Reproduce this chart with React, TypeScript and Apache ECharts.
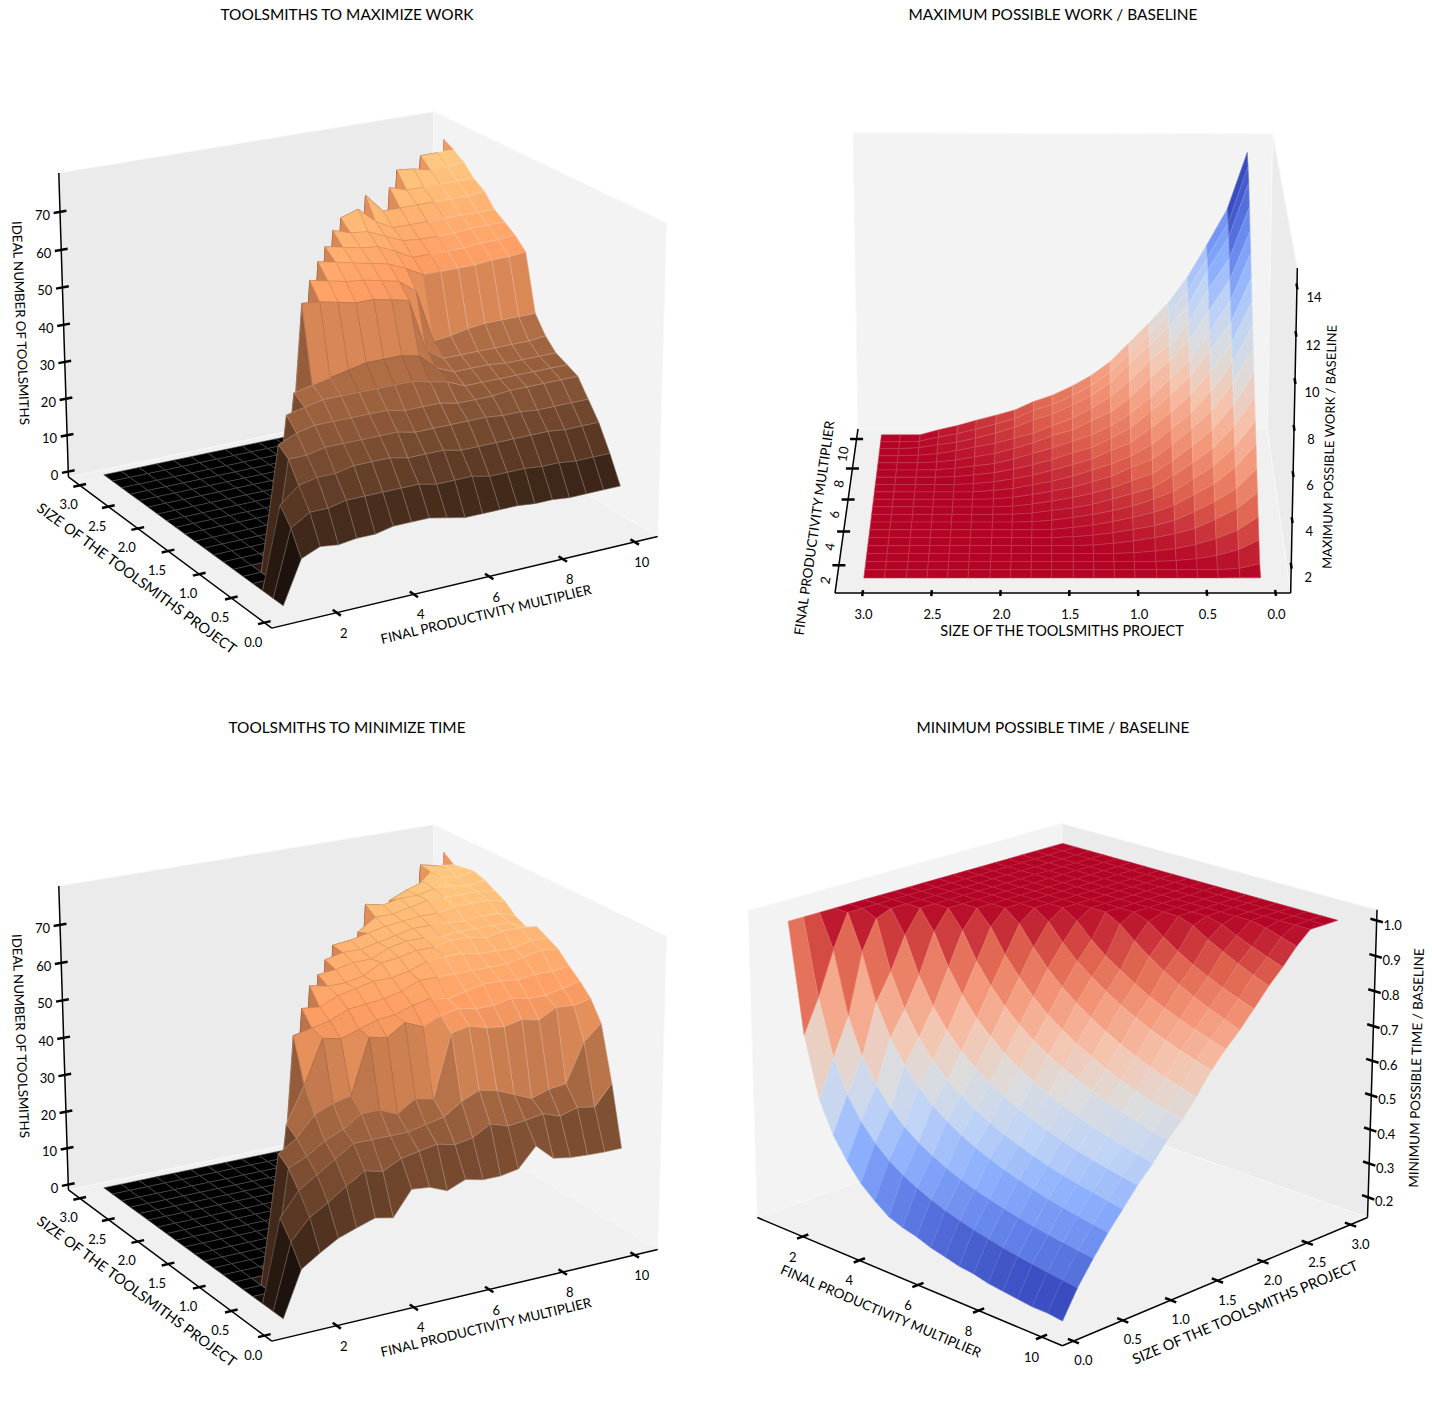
import React, { useEffect, useRef } from "react";
import * as echarts from "echarts";

const multipliers = [1, 1.47, 1.95, 2.42, 2.89, 3.37, 3.84, 4.32, 4.79, 5.26, 5.74, 6.21, 6.68, 7.16, 7.63, 8.11, 8.58, 9.05, 9.53, 10];
const sizes = [0.1, 0.25, 0.41, 0.56, 0.71, 0.86, 1.02, 1.17, 1.32, 1.47, 1.63, 1.78, 1.93, 2.08, 2.24, 2.39, 2.54, 2.69, 2.85, 3];

// rows: one per multiplier; each row lists values by size, remaining sizes stay at the flat level
const toolsmithsWork = [
  [],
  [11, 17, 21],
  [13, 20, 25, 30, 32],
  [12.4, 20, 26, 30, 34, 37],
  [13, 21, 26, 31, 35, 38, 40],
  [13, 21, 27, 31, 35, 39, 41, 60.5],
  [14, 21, 27, 31, 35, 39, 42, 60, 64],
  [14, 21, 27, 31, 35, 39, 43, 59, 63, 66.5],
  [14, 21, 26, 31, 35, 39, 44, 58, 62, 65.5, 68],
  [13, 20, 26, 30, 34, 39, 44, 58, 61.5, 64.5, 67, 70],
  [12, 20, 26, 30, 34, 39, 44, 57, 60.5, 63.5, 66, 68.5, 71],
  [12, 20, 25, 30, 34, 38, 43, 56, 59.5, 62.5, 65.5, 68, 72.5],
  [12, 19, 25, 30, 33, 37, 39, 42, 56, 60.5, 63.5, 66, 68.5, 74],
  [12, 19, 25, 30, 33, 35, 37, 39, 42, 58, 61, 64, 66, 69],
  [11.5, 19, 25, 29.5, 33, 35, 37, 39, 42.5, 58, 61, 63.5, 66, 69, 73],
  [11.5, 18.5, 25, 29.5, 33.5, 35, 37, 39, 43.5, 58, 61, 63.5, 66, 69, 71.5, 75.5],
  [11, 18.5, 25, 29, 33.5, 35, 36.5, 39, 44, 58, 61, 63.5, 66, 69, 71.5, 75],
  [11, 18, 24.5, 29, 33.5, 35, 36.5, 39, 44, 58.5, 61.5, 64, 66, 69, 71.5, 74, 76.5],
  [11, 18, 24.5, 29, 33.5, 35, 36.5, 39, 44, 58.5, 61.5, 64, 66, 69, 71.5, 74, 76.5],
  [11, 18, 24.5, 29, 33.5, 35, 36.5, 39.5, 44, 59, 62, 64, 66, 69.5, 71.5, 74.5, 76.5, 78],
];

const maxWork = [
  [],
  [1.27, 1.06],
  [1.95, 1.53, 1.27, 1.12, 1.04],
  [2.64, 2.04, 1.67, 1.4, 1.22, 1.11, 1.03],
  [3.37, 2.66, 2.18, 1.77, 1.53, 1.36, 1.21, 1.1, 1.03],
  [4.1, 3.22, 2.63, 2.18, 1.78, 1.54, 1.37, 1.22, 1.11, 1.04],
  [4.86, 3.84, 3.09, 2.6, 2.11, 1.8, 1.56, 1.38, 1.22, 1.11, 1.02],
  [5.56, 4.42, 3.54, 2.97, 2.4, 2.04, 1.73, 1.52, 1.34, 1.21, 1.08, 1.01],
  [6.33, 5.03, 4.02, 3.37, 2.78, 2.24, 1.95, 1.71, 1.47, 1.3, 1.18, 1.06, 1.01],
  [7.13, 5.66, 4.53, 3.8, 3.13, 2.53, 2.2, 1.87, 1.63, 1.43, 1.27, 1.13, 1.03],
  [7.88, 6.33, 5.07, 4.26, 3.52, 2.85, 2.48, 2.07, 1.81, 1.56, 1.37, 1.22, 1.09, 1.01],
  [8.65, 6.94, 5.64, 4.66, 3.93, 3.2, 2.67, 2.3, 2.02, 1.73, 1.49, 1.33, 1.16, 1.07],
  [9.44, 7.57, 6.24, 5.17, 4.37, 3.66, 2.95, 2.6, 2.2, 1.93, 1.67, 1.44, 1.27, 1.13, 1.04],
  [10.2, 8.2, 6.87, 5.71, 4.85, 4.08, 3.31, 2.83, 2.39, 2.15, 1.82, 1.58, 1.38, 1.21, 1.1, 1.02],
  [11.05, 8.87, 7.42, 6.18, 5.25, 4.42, 3.64, 3.07, 2.66, 2.35, 2.04, 1.78, 1.52, 1.31, 1.19, 1.08, 1.01],
  [11.77, 9.55, 8.1, 6.77, 5.77, 5, 4.05, 3.39, 3, 2.55, 2.28, 1.94, 1.67, 1.44, 1.28, 1.13, 1.03],
  [12.6, 10.24, 8.81, 7.28, 6.21, 5.5, 4.55, 3.78, 3.25, 2.78, 2.42, 2.07, 1.83, 1.59, 1.41, 1.24, 1.09, 1.02],
  [13.45, 10.94, 9.43, 7.79, 6.79, 5.91, 5.03, 4.15, 3.52, 3.08, 2.64, 2.38, 2.01, 1.75, 1.5, 1.31, 1.19, 1.05],
  [13.9, 11.3, 9.7, 8.15, 7.05, 6.13, 5.2, 4.32, 3.68, 3.2, 2.77, 2.5, 2.1, 1.85, 1.6, 1.38, 1.22, 1.02],
  [14.3, 11.7, 10, 8.5, 7.3, 6.35, 5.4, 4.5, 3.85, 3.35, 2.9, 2.6, 2.2, 1.95, 1.7, 1.45, 1.25],
];

const toolsmithsTime = [
  [],
  [11.6, 16.8, 21],
  [14.7, 22, 27, 31, 33],
  [17.4, 24.7, 30, 33, 36, 38],
  [19, 27.9, 33, 36, 41, 47, 58],
  [20.5, 30.8, 36, 38, 43, 58, 59, 62.5],
  [19.5, 29.7, 36, 41, 44, 57, 60, 62, 66],
  [25.8, 32, 36, 41, 58, 58.5, 62, 64, 65, 66.5],
  [25.3, 32.9, 36, 39, 57, 60, 62.5, 65, 65, 67, 68],
  [23.4, 33.7, 37, 42, 60, 60.5, 63, 66, 66, 68, 69, 69.5],
  [25.3, 32.6, 38, 41, 58, 62, 64, 66, 68.5, 68, 69, 70],
  [24.2, 33.4, 41, 57, 60, 63, 66, 67, 69, 70, 70, 71, 70],
  [24.2, 36, 43, 58, 61, 62, 66, 68.5, 70, 71, 71, 72, 73, 75],
  [25, 34.5, 42, 56.6, 60, 63, 66, 69, 70, 71, 72, 72.5, 73, 74],
  [30, 35, 40, 56, 60, 64, 66, 69, 71, 70.5, 72, 73, 74, 75, 73],
  [25.8, 35.8, 38, 57, 61, 64, 66, 68, 71, 71, 72, 73, 75, 75, 75],
  [25, 34.2, 39.5, 56, 60, 63.5, 66, 68, 70, 71, 71.5, 74, 75, 76, 76.5, 73],
  [24.7, 35.5, 40, 58.4, 60, 64, 67, 68, 71, 71, 72, 74, 75, 76, 77, 77, 77.5],
  [24.5, 34.7, 50, 58, 61, 64, 68, 69, 71, 71, 72, 74, 75, 75, 76, 77, 76.5],
  [24.5, 40, 54, 59, 62, 64.5, 67.5, 69, 70.5, 69, 70.5, 73, 74.5, 76, 77, 76.5, 76, 78],
];

const minTime = [
  [],
  [0.69, 0.784, 0.907],
  [0.52, 0.626, 0.732, 0.9, 0.983],
  [0.43, 0.531, 0.627, 0.768, 0.843, 0.935],
  [0.37, 0.468, 0.557, 0.68, 0.749, 0.833, 0.944],
  [0.32, 0.421, 0.506, 0.615, 0.681, 0.757, 0.856, 0.948],
  [0.285, 0.386, 0.467, 0.566, 0.629, 0.701, 0.789, 0.873, 0.958],
  [0.255, 0.359, 0.437, 0.528, 0.588, 0.656, 0.736, 0.815, 0.891, 0.968],
  [0.24, 0.338, 0.414, 0.499, 0.558, 0.622, 0.697, 0.77, 0.841, 0.913, 0.973],
  [0.23, 0.32, 0.394, 0.474, 0.531, 0.593, 0.662, 0.732, 0.797, 0.865, 0.925, 0.975],
  [0.215, 0.305, 0.377, 0.453, 0.509, 0.569, 0.634, 0.7, 0.76, 0.825, 0.885, 0.934],
  [0.205, 0.293, 0.364, 0.436, 0.49, 0.549, 0.61, 0.673, 0.73, 0.793, 0.853, 0.9, 0.978],
  [0.195, 0.282, 0.352, 0.421, 0.475, 0.532, 0.59, 0.651, 0.705, 0.765, 0.825, 0.873, 0.943, 0.985],
  [0.19, 0.273, 0.342, 0.408, 0.461, 0.516, 0.572, 0.631, 0.682, 0.74, 0.8, 0.847, 0.911, 0.954],
  [0.18, 0.264, 0.332, 0.396, 0.448, 0.503, 0.556, 0.613, 0.661, 0.718, 0.778, 0.824, 0.883, 0.926, 0.986],
  [0.175, 0.257, 0.324, 0.385, 0.437, 0.49, 0.542, 0.596, 0.643, 0.698, 0.758, 0.804, 0.858, 0.901, 0.959, 0.989],
  [0.17, 0.251, 0.317, 0.377, 0.428, 0.48, 0.53, 0.584, 0.628, 0.682, 0.742, 0.787, 0.837, 0.881, 0.937, 0.97],
  [0.165, 0.245, 0.311, 0.369, 0.42, 0.471, 0.519, 0.571, 0.614, 0.666, 0.726, 0.772, 0.818, 0.862, 0.916, 0.952, 0.992],
  [0.165, 0.24, 0.305, 0.362, 0.412, 0.463, 0.509, 0.56, 0.602, 0.653, 0.713, 0.758, 0.801, 0.845, 0.897, 0.935, 0.978],
  [0.16, 0.235, 0.3, 0.355, 0.405, 0.455, 0.5, 0.55, 0.59, 0.64, 0.7, 0.745, 0.785, 0.83, 0.88, 0.92, 0.965],
];

const multiplierTicks = [2, 4, 6, 8, 10];
const sizeTicks = [0, 0.5, 1, 1.5, 2, 2.5, 3];
const toolsmithTicks = [0, 10, 20, 30, 40, 50, 60, 70];
const workTicks = [2, 4, 6, 8, 10, 12, 14];
const timeTicks = [0.2, 0.3, 0.4, 0.5, 0.6, 0.7, 0.8, 0.9, 1];

const FONT = "Lato";
const xName = "FINAL PRODUCTIVITY MULTIPLIER";
const yName = "SIZE OF THE TOOLSMITHS PROJECT";

const COOLWARM = [[58, 76, 192], [98, 130, 234], [141, 176, 254], [192, 212, 245], [221, 221, 221], [245, 196, 173], [244, 152, 122], [222, 96, 77], [180, 4, 38]];
function coolwarm(t: number) {
  const p = Math.max(0, Math.min(1, t)) * 8;
  const i = Math.min(7, Math.floor(p));
  const f = p - i;
  return COOLWARM[i].map((c, k) => c + (COOLWARM[i + 1][k] - c) * f);
}
function copper(t: number) {
  return [Math.min(1, 1.25 * t) * 255, 0.7812 * t * 255, 0.4975 * t * 255];
}
const css = (c: number[]) => `rgb(${c.map((v) => Math.round(v)).join(",")})`;
const mix = (c: number[], to: number, a: number) => c.map((v) => v + (to - v) * a);

function makeCamera(pts: number[][], lims: number[][]) {
  const n = 11;
  const A: number[][] = Array.from({ length: n }, () => new Array(n + 1).fill(0));
  const add = (r: number[], b: number) => {
    for (let a = 0; a < n; a++) {
      for (let c = 0; c < n; c++) A[a][c] += r[a] * r[c];
      A[a][n] += r[a] * b;
    }
  };
  pts.forEach(([a, b, c, u0, v0]) => {
    const u = u0 / 1000;
    const v = v0 / 1000;
    add([a, b, c, 1, 0, 0, 0, 0, -u * a, -u * b, -u * c], u);
    add([0, 0, 0, 0, a, b, c, 1, -v * a, -v * b, -v * c], v);
  });
  for (let i = 0; i < n; i++) {
    let m = i;
    for (let r = i + 1; r < n; r++) if (Math.abs(A[r][i]) > Math.abs(A[m][i])) m = r;
    [A[i], A[m]] = [A[m], A[i]];
    for (let r = 0; r < n; r++) {
      if (r === i) continue;
      const f = A[r][i] / A[i][i];
      for (let c = i; c <= n; c++) A[r][c] -= f * A[i][c];
    }
  }
  const s = A.map((r, i) => r[n] / r[i]);
  return (x: number, y: number, z: number) => {
    const a = (x - lims[0][0]) / (lims[0][1] - lims[0][0]);
    const b = (y - lims[1][0]) / (lims[1][1] - lims[1][0]);
    const c = (z - lims[2][0]) / (lims[2][1] - lims[2][0]);
    const w = s[8] * a + s[9] * b + s[10] * c + 1;
    return [(1000 * (s[0] * a + s[1] * b + s[2] * c + s[3])) / w, (1000 * (s[4] * a + s[5] * b + s[6] * c + s[7])) / w, w];
  };
}

const d3 = 713;
const cornersLeft = (dy: number) => [
  [0, 0, 0, 272, 628 + dy], [1, 0, 0, 657, 537 + dy], [0, 1, 0, 68, 477 + dy], [1, 1, 0, 433, 401 + dy],
  [1, 1, 1, 433, 112 + dy], [0, 1, 1, 59, 173 + dy], [1, 0, 1, 667, 223 + dy],
];

const panels: any[] = [
  {
    title: "TOOLSMITHS TO MAXIMIZE WORK", tx: 347, ty: 14, grid: toolsmithsWork, flat: 0, map: copper, seam: 0.3, darkV: 385,
    lims: [[0.35, 10.65], [-0.11, 3.2], [-1.5, 80.2]], corners: cornersLeft(0), walls: [["y", 1], ["x", 1]],
    xEdge: 0, yEdge: 0, zEdge: [0, 1], xLen: 10, yLen: 13, zLen: 13,
    xOff: [7, 20], yOff: [-11, 19], zOff: [-10, 3], zAlign: "right", zTicks: toolsmithTicks, zDigits: 0, xRot: 0,
    names: [
      [xName, 486, 614, 13.4, 13.5], [yName, 137, 578, -36.4, 14.5], ["IDEAL NUMBER OF TOOLSMITHS", 21, 323, -87.7, 13.2],
    ],
  },
  {
    title: "MAXIMUM POSSIBLE WORK / BASELINE", tx: 1053, ty: 14, grid: maxWork, flat: 1, map: (t: number) => coolwarm(1 - t), seam: 0.2, darkV: 0,
    lims: [[0.4, 10.7], [-0.11, 3.2], [0.8, 14.77]],
    corners: [[0, 0, 0, 1291, 593], [0, 1, 0, 835, 593], [1, 0, 0, 1267, 429], [1, 1, 0, 858, 429], [1, 0, 1, 1273, 134], [1, 1, 1, 853, 133], [0, 0, 1, 1297, 268]],
    walls: [["x", 1], ["y", 0]],
    xEdge: 1, yEdge: 0, zEdge: [0, 0], xLen: 13, yLen: 6, zLen: 6,
    xOff: [-14, 15], yOff: [1, 21], zOff: [17, 11], zAlign: "center", zTicks: workTicks, zDigits: 0, xRot: 80,
    names: [
      [xName, 814, 528, 81.7, 13.5], [yName, 1062, 630, 0, 14.5], ["MAXIMUM POSSIBLE WORK / BASELINE", 1329, 447, 88.8, 13],
    ],
  },
  {
    title: "TOOLSMITHS TO MINIMIZE TIME", tx: 347, ty: 727, grid: toolsmithsTime, flat: 0, map: copper, seam: 0.3, darkV: 385 + d3,
    lims: [[0.35, 10.65], [-0.11, 3.2], [-1.5, 80.2]], corners: cornersLeft(d3), walls: [["y", 1], ["x", 1]],
    xEdge: 0, yEdge: 0, zEdge: [0, 1], xLen: 10, yLen: 13, zLen: 13,
    xOff: [7, 20], yOff: [-11, 19], zOff: [-10, 3], zAlign: "right", zTicks: toolsmithTicks, zDigits: 0, xRot: 0,
    names: [
      [xName, 486, 614 + d3, 13.4, 13.5], [yName, 137, 578 + d3, -36.4, 14.5], ["IDEAL NUMBER OF TOOLSMITHS", 21, 323 + d3, -87.7, 13.2],
    ],
  },
  {
    title: "MINIMUM POSSIBLE TIME / BASELINE", tx: 1053, ty: 727, grid: minTime, flat: 1, map: coolwarm, seam: 0.12, darkV: 0,
    lims: [[0.35, 10.65], [-0.11, 3.2], [0.14, 1.03]],
    corners: [[0, 0, 0, 757, 1218], [1, 0, 0, 1063, 1345], [1, 1, 0, 1367, 1219], [0, 1, 0, 1062, 1108], [0, 1, 1, 1062, 824], [0, 0, 1, 748, 911], [1, 1, 1, 1377, 909]],
    walls: [["x", 0], ["y", 1]],
    xEdge: 0, yEdge: 1, zEdge: [1, 1], xLen: 12, yLen: 12, zLen: 13,
    xOff: [-10, 20], yOff: [10, 19], zOff: [16, 4], zAlign: "center", zTicks: timeTicks, zDigits: 1, xRot: 0,
    names: [
      [xName, 881, 1311, -23, 13.5], [yName, 1245, 1312, 23, 14.5], ["MINIMUM POSSIBLE TIME / BASELINE", 1416, 1068, 88.6, 13.5],
    ],
  },
];

function buildPanel(p: any) {
  const cam = makeCamera(p.corners, p.lims);
  const [xl, yl, zl] = p.lims;
  const val = (i: number, j: number) => {
    const v = p.grid[i][j];
    return v === undefined ? p.flat : v;
  };
  const quads: any[] = [];
  for (let i = 0; i < multipliers.length - 1; i++) {
    for (let j = 0; j < sizes.length - 1; j++) {
      const q = [[i, j], [i + 1, j], [i + 1, j + 1], [i, j + 1]].map(([a, b]) => cam(multipliers[a], sizes[b], val(a, b)));
      const avg = (val(i, j) + val(i + 1, j) + val(i + 1, j + 1) + val(i, j + 1)) / 4;
      quads.push({ pts: q.map((c) => [c[0], c[1]]), avg, depth: (q[0][2] + q[1][2] + q[2][2] + q[3][2]) / 4 });
    }
  }
  const lo = Math.min(...quads.map((q) => q.avg));
  const hi = Math.max(...quads.map((q) => q.avg));
  quads.sort((a, b) => b.depth - a.depth);

  const wallPoly = ([axis, side]: [string, number]) => {
    const xs = xl, ys = yl, zs = zl;
    if (axis === "x") return { shade: 243, pts: [[ys[0], zs[0]], [ys[1], zs[0]], [ys[1], zs[1]], [ys[0], zs[1]]].map(([y, z]) => cam(xs[side], y, z).slice(0, 2)) };
    return { shade: 235, pts: [[xs[0], zs[0]], [xs[1], zs[0]], [xs[1], zs[1]], [xs[0], zs[1]]].map(([x, z]) => cam(x, ys[side], z).slice(0, 2)) };
  };
  const walls = [
    { shade: 240, pts: [[0, 0], [1, 0], [1, 1], [0, 1]].map(([a, b]) => cam(xl[a], yl[b], zl[0]).slice(0, 2)) },
    ...p.walls.map(wallPoly),
  ];

  const elements: any[] = [];
  const seg = (a: number[], b: number[], w: number) =>
    elements.push({ type: "line", silent: true, z: 50, shape: { x1: a[0], y1: a[1], x2: b[0], y2: b[1] }, style: { stroke: "#000", lineWidth: w } });
  const label = (text: string, x: number, y: number, deg: number, size: number, align = "center") =>
    elements.push({ type: "text", silent: true, z: 51, x, y, rotation: (deg * Math.PI) / 180, style: { text, fill: "#000", font: `${size}px ${FONT}`, align, verticalAlign: "middle" } });
  const dirTick = (c: number[], o: number[], len: number) => {
    const dx = o[0] - c[0], dy = o[1] - c[1];
    const n = Math.hypot(dx, dy) || 1;
    seg([c[0] - (dx / n) * len / 2, c[1] - (dy / n) * len / 2], [c[0] + (dx / n) * len / 2, c[1] + (dy / n) * len / 2], 2.5);
  };
  const xAxisY = yl[p.xEdge];
  const yAxisX = xl[p.yEdge];
  const zx = xl[p.zEdge[0]], zy = yl[p.zEdge[1]];
  seg(cam(xl[0], xAxisY, zl[0]), cam(xl[1], xAxisY, zl[0]), 1.5);
  seg(cam(yAxisX, yl[0], zl[0]), cam(yAxisX, yl[1], zl[0]), 1.5);
  seg(cam(zx, zy, zl[0]), cam(zx, zy, zl[1]), 1.5);
  multiplierTicks.forEach((t) => {
    const c = cam(t, xAxisY, zl[0]);
    dirTick(c, cam(t, xAxisY + 0.1, zl[0]), p.xLen);
    label(String(t), c[0] + p.xOff[0], c[1] + p.xOff[1], p.xRot, 13);
  });
  sizeTicks.forEach((t) => {
    const c = cam(yAxisX, t, zl[0]);
    dirTick(c, cam(yAxisX + 0.2, t, zl[0]), p.yLen);
    label(t.toFixed(1), c[0] + p.yOff[0], c[1] + p.yOff[1], 0, 13);
  });
  p.zTicks.forEach((t: number) => {
    const c = cam(zx, zy, t);
    dirTick(c, cam(zx + 0.2, zy, t), p.zLen);
    label(t.toFixed(p.zDigits), c[0] + p.zOff[0], c[1] + p.zOff[1], 0, 13, p.zAlign);
  });
  p.names.forEach((n: any[]) => label(n[0], n[1], n[2], n[3], n[4]));

  const wallSeries = {
    type: "custom", coordinateSystem: "none", silent: true, z: 1, clip: false,
    data: walls.map((_, k) => [k]),
    renderItem: (params: any) => {
      const w = walls[params.dataIndex];
      return { type: "polygon", shape: { points: w.pts }, style: { fill: css([w.shade, w.shade, w.shade]), stroke: "#f7f7f7", lineWidth: 1 } };
    },
  };
  const surfaceSeries = {
    type: "custom", coordinateSystem: "none", silent: true, z: 2, clip: false,
    data: quads.map((q) => [q.avg]),
    renderItem: (params: any) => {
      const q = quads[params.dataIndex];
      const c = p.map((q.avg - lo) / (hi - lo || 1));
      const cu = q.pts.reduce((s: number, a: number[]) => s + a[0], 0) / 4;
      const cv = q.pts.reduce((s: number, a: number[]) => s + a[1], 0) / 4;
      const seamColor = cu < 437 && cv < p.darkV ? mix(c, 0, 0.14) : mix(c, 255, p.seam);
      return { type: "polygon", shape: { points: q.pts }, style: { fill: css(c), stroke: css(seamColor), lineWidth: 0.6, lineJoin: "round" } };
    },
  };
  return { series: [wallSeries, surfaceSeries], elements };
}

export default function App() {
  const ref = useRef<HTMLDivElement>(null);
  useEffect(() => {
    document.body.style.margin = "0";
    const chart = echarts.init(ref.current!, undefined, { renderer: "svg" });
    const built = panels.map(buildPanel);
    chart.setOption({
      animation: false,
      backgroundColor: "#fff",
      title: panels.map((p) => ({
        text: p.title, left: p.tx - 5, top: p.ty - 13, textAlign: "center",
        textStyle: { fontFamily: FONT, fontSize: 15.4, fontWeight: "normal", color: "#000" },
      })),
      series: built.flatMap((b) => b.series),
      graphic: { elements: built.flatMap((b) => b.elements) },
    });
    return () => chart.dispose();
  }, []);
  return <div ref={ref} style={{ position: "absolute", left: 0, top: 0, width: 1432, height: 1424 }} />;
}
